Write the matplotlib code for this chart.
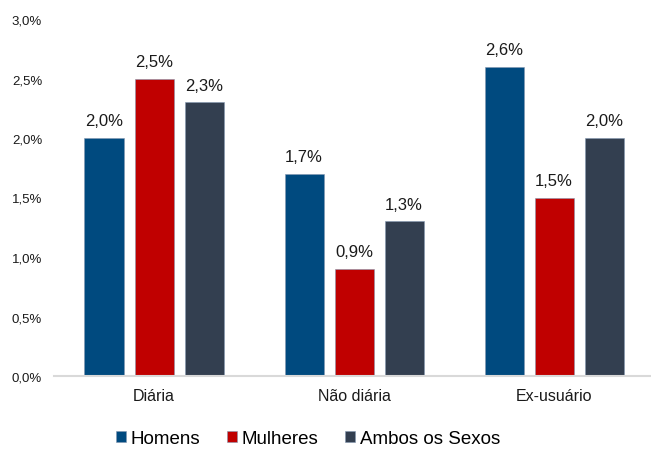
import numpy as np
import matplotlib
matplotlib.use("Agg")
import matplotlib.pyplot as plt
from matplotlib.ticker import FuncFormatter

# data (percent)
categories = ["Diária", "Não diária", "Ex-usuário"]
series_names = ["Homens", "Mulheres", "Ambos os Sexos"]
homens = [2.0, 1.7, 2.6]
mulheres = [2.5, 0.9, 1.5]
ambos = [2.3, 1.3, 2.0]
colors = ["#004A7F", "#C00000", "#333F50"]

plt.rcParams["font.family"] = ["Liberation Sans", "DejaVu Sans"]

fig = plt.figure(figsize=(6.51, 4.52), dpi=100)
ax = fig.add_axes([54 / 651, 75 / 452, 597 / 651, 357 / 452])

x = np.arange(len(categories))
width = 0.195
step = 0.25
bars = []
for i, (vals, name, c) in enumerate(zip([homens, mulheres, ambos], series_names, colors)):
    b = ax.bar(x + (i - 1) * step, vals, width, color=c, label=name,
               edgecolor="#8497B0", linewidth=0.4)
    bars.append(b)
    for xi, v in zip(x + (i - 1) * step, vals):
        ax.annotate(f"{v:.1f}%".replace(".", ","), (xi, v), xytext=(0, 7),
                    textcoords="offset points", ha="center", va="bottom",
                    fontsize=12, color="#1a1a1a")

ax.set_xlim(-0.5, 2.485)
ax.set_ylim(0, 3.0)
ax.set_yticks(np.arange(0, 3.01, 0.5))
ax.yaxis.set_major_formatter(FuncFormatter(lambda v, p: f"{v:.1f}%".replace(".", ",")))
ax.set_xticks(x)
ax.set_xticklabels(categories, fontsize=11.5, color="#1a1a1a")
ax.tick_params(axis="y", labelsize=9.5, length=0, pad=8.5, colors="#1a1a1a")
ax.tick_params(axis="x", length=0, pad=9)
for s in ["top", "right", "left"]:
    ax.spines[s].set_visible(False)
ax.spines["bottom"].set_color("#D9D9D9")
ax.spines["bottom"].set_linewidth(1.5)

fig.legend(handles=bars, labels=series_names, loc="upper center",
           bbox_to_anchor=(308 / 651, 34 / 452), ncol=3, frameon=False,
           fontsize=13.5, handlelength=0.55, handleheight=0.55,
           handletextpad=0.25, columnspacing=1.4, borderpad=0.2)

fig.savefig("out.png", dpi=100)
